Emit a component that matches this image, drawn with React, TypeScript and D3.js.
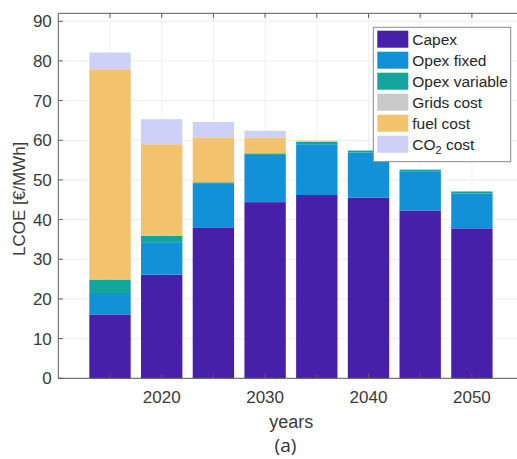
import React from "react";
import * as d3 from "d3";

// Levelised cost of electricity by component, €/MWh
const years = [2015, 2020, 2025, 2030, 2035, 2040, 2045, 2050];
const capex = [16.1, 26.1, 37.9, 44.4, 46.2, 45.5, 42.3, 37.8];
const opexFixed = [5.4, 8.2, 11.1, 11.9, 12.8, 11.4, 9.9, 8.8];
const opexVariable = [3.4, 1.6, 0.4, 0.4, 0.6, 0.5, 0.4, 0.5];
const gridsCost = [0, 0, 0, 0, 0, 0, 0, 0];
const fuelCost = [53.0, 23.1, 11.3, 4.0, 0.3, 0, 0, 0];
const co2Cost = [4.2, 6.3, 3.9, 1.7, 0, 0, 0, 0];

const seriesNames = ["Capex", "Opex fixed", "Opex variable", "Grids cost", "fuel cost", "CO2 cost"];
const seriesValues = [capex, opexFixed, opexVariable, gridsCost, fuelCost, co2Cost];
const seriesColors = ["#4620a9", "#1290d8", "#13a59b", "#c9c9c9", "#f3c26c", "#cdd0f7"];

const yTicks = [0, 10, 20, 30, 40, 50, 60, 70, 80, 90];
const xMinorTicks = [2015, 2020, 2025, 2030, 2035, 2040, 2045, 2050];
const xLabelTicks = [2020, 2030, 2040, 2050];

const W = 517;
const H = 459;
const left = 58.3;
const right = 523.6;
const top = 13.3;
const bottom = 378.3;

export default function App() {
  const x = d3.scaleLinear().domain([2010, 2055]).range([left, right]);
  const y = d3.scaleLinear().domain([0, 92]).range([bottom, top]);

  const rows = years.map((yr, i) => {
    const r: Record<string, number> = { year: yr };
    seriesNames.forEach((n, k) => (r[n] = seriesValues[k][i]));
    return r;
  });
  const stacked = d3.stack<Record<string, number>>().keys(seriesNames)(rows);
  const barW = x(2014) - x(2010);

  const font = "'Liberation Sans', Arial, Helvetica, sans-serif";
  const axisColor = "#5a5a5a";
  const textColor = "#3a3a3a";

  const legX = 373.3;
  const legY = 27.3;
  const legW = 137.4;
  const legH = 134.4;
  const rowH = 21;

  return (
    <svg
      width={W}
      height={H}
      style={{ position: "fixed", left: 0, top: 0, background: "#fff" }}
      fontFamily={font}
    >
      <rect x={0} y={0} width={W} height={H} fill="#fff" />
      {/* grid */}
      {yTicks.map((t) => (
        <line key={"gy" + t} x1={left} x2={right} y1={y(t)} y2={y(t)} stroke="#ececec" strokeWidth={1} />
      ))}
      {xMinorTicks.map((t) => (
        <line key={"gx" + t} x1={x(t)} x2={x(t)} y1={top} y2={bottom} stroke="#f0f0f0" strokeWidth={1} />
      ))}
      {/* bars */}
      {stacked.map((layer, k) =>
        layer.map((d, i) => {
          const h = y(d[0]) - y(d[1]);
          if (h <= 0) return null;
          return (
            <rect
              key={k + "-" + i}
              x={x(years[i]) - barW / 2}
              y={y(d[1])}
              width={barW}
              height={h}
              fill={seriesColors[k]}
            />
          );
        })
      )}
      {/* axes */}
      <line x1={left} x2={right} y1={bottom} y2={bottom} stroke={axisColor} strokeWidth={1} />
      <line x1={left} x2={right} y1={top} y2={top} stroke={axisColor} strokeWidth={1} />
      <line x1={left} x2={left} y1={top} y2={bottom} stroke={axisColor} strokeWidth={1} />
      {yTicks.map((t) => (
        <g key={"ty" + t}>
          <line x1={left} x2={left + 4.5} y1={y(t)} y2={y(t)} stroke={axisColor} />
          <text x={left - 6.5} y={y(t)} dy="0.35em" textAnchor="end" fontSize={17} fill={textColor}>
            {t}
          </text>
        </g>
      ))}
      {xMinorTicks.map((t) => (
        <g key={"tx" + t}>
          <line x1={x(t)} x2={x(t)} y1={bottom} y2={bottom - 4.5} stroke={axisColor} />
          <line x1={x(t)} x2={x(t)} y1={top} y2={top + 4.5} stroke={axisColor} />
        </g>
      ))}
      {xLabelTicks.map((t) => (
        <text key={"lx" + t} x={x(t)} y={396.7} dy="0.35em" textAnchor="middle" fontSize={17} fill={textColor}>
          {t}
        </text>
      ))}
      <text x={291.3} y={421.7} dy="0.35em" textAnchor="middle" fontSize={18} fill={textColor}>
        years
      </text>
      <text
        transform={`translate(19.5,${(top + bottom) / 2 + 3}) rotate(-90)`}
        dy="0.35em"
        textAnchor="middle"
        fontSize={17}
        fill={textColor}
      >
        LCOE [€/MWh]
      </text>
      <text x={285.5} y={445.5} dy="0.35em" textAnchor="middle" fontSize={19} fill="#333" fontFamily="'Open Sans', sans-serif">
        (a)
      </text>
      {/* legend */}
      <rect x={legX} y={legY} width={legW} height={legH} fill="#fff" stroke="#8a8a8a" strokeWidth={1} />
      {seriesNames.map((n, k) => {
        const cy = legY + 11.9 + k * rowH;
        return (
          <g key={"lg" + n}>
            <rect x={377.3} y={cy - 8.5} width={31} height={17} fill={seriesColors[k]} />
            <text x={412.3} y={cy} dy="0.35em" fontSize={15.5} fill="#262626">
              {n === "CO2 cost" ? (
                <>
                  CO
                  <tspan fontSize={11} dy="4">2</tspan>
                  <tspan dy="-4"> cost</tspan>
                </>
              ) : (
                n
              )}
            </text>
          </g>
        );
      })}
    </svg>
  );
}
